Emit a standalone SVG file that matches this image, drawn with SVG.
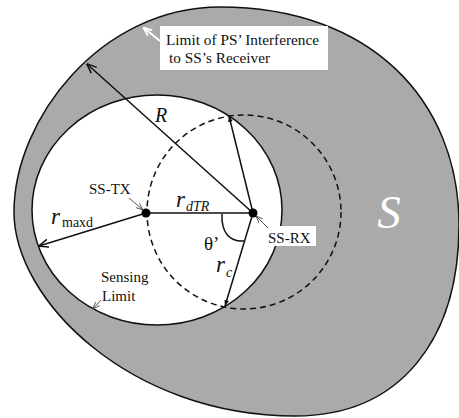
<svg xmlns="http://www.w3.org/2000/svg" width="459" height="418" viewBox="0 0 459 418">
<style>
text{font-family:"Liberation Serif","DejaVu Serif",serif;fill:#111}
.i{font-style:italic}
.ln{stroke:#111;stroke-width:1.5;fill:none}
.ptr{stroke:#555;stroke-width:1;fill:none}
</style>
<defs>
<marker id="ah" viewBox="0 0 10 10" refX="9.5" refY="5" markerWidth="10" markerHeight="10" markerUnits="userSpaceOnUse" orient="auto">
<path d="M0,1 L10,5 L0,9" fill="none" stroke="#111" stroke-width="1.5"/>
</marker>
<marker id="ahs" viewBox="0 0 10 10" refX="10" refY="5" markerWidth="6" markerHeight="6" markerUnits="userSpaceOnUse" orient="auto">
<path d="M0,1 L10,5 L0,9 z" fill="#111"/>
</marker>
<marker id="ahg" viewBox="0 0 10 10" refX="10" refY="5" markerWidth="7" markerHeight="7" markerUnits="userSpaceOnUse" orient="auto">
<path d="M0,1 L10,5 L0,9" fill="none" stroke="#555" stroke-width="1.3"/>
</marker>
<marker id="ahw" viewBox="0 0 10 10" refX="9" refY="5" markerWidth="9" markerHeight="9" markerUnits="userSpaceOnUse" orient="auto">
<path d="M0,1 L10,5 L0,9" fill="none" stroke="#fff" stroke-width="2"/>
</marker>
</defs>
<rect width="459" height="418" fill="#fff"/>
<g id="outer-region">
<path d="M220,7 C370,7 459,100 459,225 C459,340 400,416 295,416 C130,416 14,300 14,212 C14,120 100,7 220,7 Z" fill="#aaaaaa" stroke="#111" stroke-width="1.5"/>
<text class="i" x="389" y="228" font-size="47" text-anchor="middle" font-family="Liberation Serif, serif" style="fill:#fff">S</text>
</g>
<g id="sensing-region">
<ellipse cx="157" cy="210" rx="125" ry="115" fill="#fff" stroke="#111" stroke-width="1.5"/>
</g>
<g id="rx-label">
<rect x="262" y="226" width="54" height="20" fill="#fff"/>
<text x="268" y="243" font-size="15">SS-RX</text>
</g>
<g id="coverage-circle">
<circle cx="244" cy="212" r="97" fill="none" stroke="#111" stroke-width="1.5" stroke-dasharray="6 4"/>
</g>
<g id="interference-label">
<rect x="160" y="26" width="168" height="44" fill="#fff"/>
<text x="166" y="45" font-size="15.3">Limit of PS’ Interference</text>
<text x="169" y="63" font-size="15.3">to SS’s Receiver</text>
</g>
<g id="connectors">
<line class="ln" x1="253" y1="213" x2="87" y2="64" marker-end="url(#ah)"/>
<line class="ln" x1="146" y1="213" x2="39" y2="246" marker-end="url(#ah)"/>
<line class="ln" x1="146" y1="213" x2="253" y2="213"/>
<line class="ln" x1="253" y1="213" x2="229" y2="116" marker-end="url(#ahs)"/>
<line class="ln" x1="253" y1="213" x2="225" y2="306" marker-end="url(#ahs)"/>
<path class="ln" d="M222,214 C221,233 230,242 244,241" stroke-width="1.2"/>
<line x1="160" y1="41" x2="144" y2="28" stroke="#fff" stroke-width="2" marker-end="url(#ahw)"/>
<line class="ptr" x1="129" y1="198" x2="143" y2="210" marker-end="url(#ahg)"/>
<line class="ptr" x1="268" y1="228" x2="256" y2="216" marker-end="url(#ahg)"/>
<line class="ptr" x1="101" y1="300" x2="93" y2="309" marker-end="url(#ahg)"/>
</g>
<g id="ss-tx">
<circle cx="146" cy="213" r="4.5" fill="#000"/>
<text x="89" y="194" font-size="15">SS-TX</text>
</g>
<g id="ss-rx">
<circle cx="253" cy="213" r="4.5" fill="#000"/>
</g>
<g id="labels">
<text class="i" x="155" y="122" font-size="20">R</text>
<text class="i" x="51" y="224" font-size="23">r</text>
<text x="62" y="227" font-size="14">maxd</text>
<text class="i" x="176" y="207" font-size="23">r</text>
<text class="i" x="186" y="211" font-size="14">dTR</text>
<text x="204" y="250" font-size="19">θ’</text>
<text class="i" x="216" y="272" font-size="23">r</text>
<text class="i" x="226" y="277" font-size="14">c</text>
<text x="101" y="282" font-size="15">Sensing</text>
<text x="102" y="301" font-size="15">Limit</text>
</g>
</svg>
